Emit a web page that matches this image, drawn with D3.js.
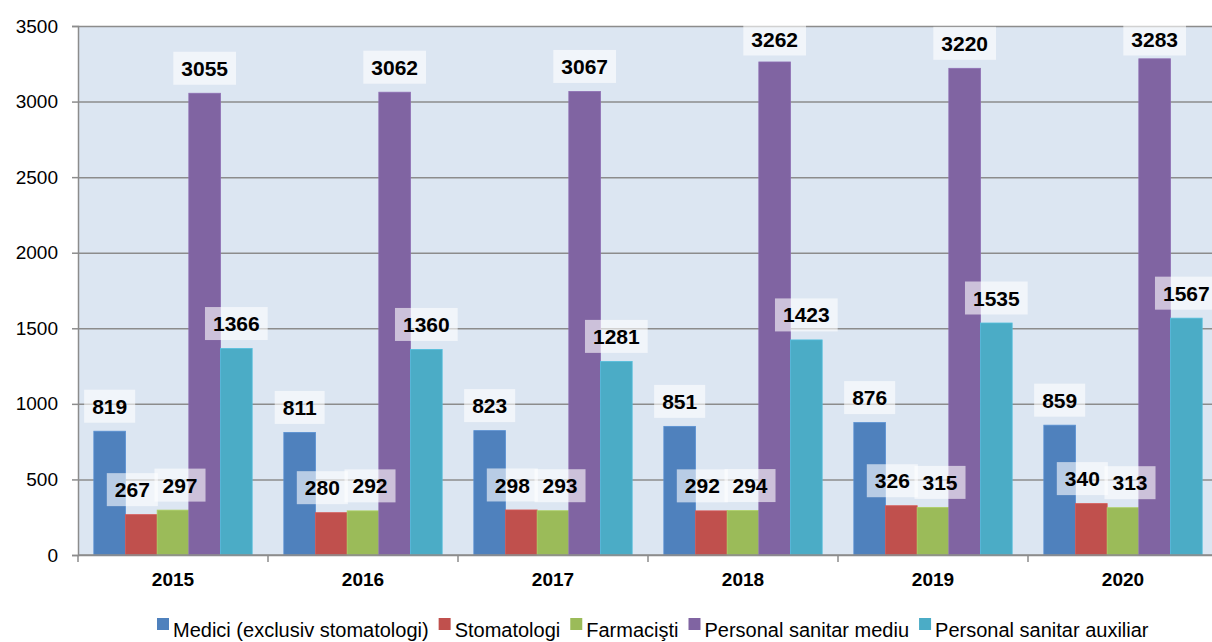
<!DOCTYPE html>
<meta charset="utf-8">
<style>
  body { margin: 0; background: #fff; }
  svg { display: block; font-family: "Liberation Sans", Arial, sans-serif; }
</style>
<body>
<div id="chart"></div>
<script src="https://d3js.org/d3.v7.min.js"></script>
<script>
// ——— data ———
const years = ["2015", "2016", "2017", "2018", "2019", "2020"];
const seriesNames = [
  "Medici (exclusiv stomatologi)",
  "Stomatologi",
  "Farmacişti",
  "Personal sanitar mediu",
  "Personal sanitar auxiliar"
];
const medici    = [819, 811, 823, 851, 876, 859];
const stomat    = [267, 280, 298, 292, 326, 340];
const farmacisti = [297, 292, 293, 294, 315, 313];
const mediu     = [3055, 3062, 3067, 3262, 3220, 3283];
const auxiliar  = [1366, 1360, 1281, 1423, 1535, 1567];
const yTicks = [0, 500, 1000, 1500, 2000, 2500, 3000, 3500];

const colors = ["#4f81bd", "#c0504d", "#9bbb59", "#8064a2", "#4bacc6"];
const values = [medici, stomat, farmacisti, mediu, auxiliar];
// small nudges so the red/green labels don't sit on each other
const labelDx = [0, -9, 7, 0, 0];

const rows = years.map((yr, i) => ({
  year: yr,
  vals: seriesNames.map((s, j) => ({ key: s, idx: j, value: values[j][i] }))
}));

// ——— layout ———
const W = 1212, H = 642;
const plotL = 78, plotR = 1218, plotT = 26, plotB = 555;

const svg = d3.select("#chart").append("svg")
  .attr("width", W)
  .attr("height", H);

const x0 = d3.scaleBand().domain(years).range([plotL, plotR]).padding(0);
const x1 = d3.scaleBand().domain(seriesNames).range([0, x0.bandwidth()])
  .paddingInner(0).paddingOuter(0.5);
const y = d3.scaleLinear().domain([0, 3500]).range([plotB, plotT]);

// plot background
svg.append("rect")
  .attr("x", plotL).attr("y", plotT)
  .attr("width", plotR - plotL).attr("height", plotB - plotT)
  .attr("fill", "#dce6f2");

// gridlines + y axis
const yAxis = svg.append("g")
  .attr("transform", `translate(${plotL},0)`)
  .call(d3.axisLeft(y).tickValues(yTicks).tickSize(6).tickPadding(14).tickFormat(d3.format("d")));
yAxis.select(".domain").attr("stroke", "#8c8c8c").attr("stroke-width", 1.5);
yAxis.selectAll(".tick line").attr("stroke", "#8c8c8c").attr("stroke-width", 1.5);
yAxis.selectAll(".tick line").clone()
  .attr("x1", 0).attr("x2", plotR - plotL);
yAxis.selectAll(".tick text")
  .attr("font-size", 19).attr("fill", "#000")
  .attr("font-family", "'Liberation Sans', Arial, sans-serif");

// x axis
const xAxis = svg.append("g")
  .attr("transform", `translate(0,${plotB})`)
  .call(d3.axisBottom(x0).tickSize(0).tickPadding(18));
xAxis.select(".domain").remove();
xAxis.selectAll(".tick text")
  .attr("font-size", 19).attr("font-weight", "bold").attr("fill", "#000")
  .attr("font-family", "'Liberation Sans', Arial, sans-serif");
svg.append("g").selectAll("line")
  .data(years.concat(["end"]))
  .join("line")
    .attr("x1", (d, i) => plotL + i * x0.step())
    .attr("x2", (d, i) => plotL + i * x0.step())
    .attr("y1", plotB).attr("y2", plotB + 7)
    .attr("stroke", "#8c8c8c").attr("stroke-width", 1.5);

// bars
const groups = svg.append("g").selectAll("g")
  .data(rows)
  .join("g")
    .attr("transform", d => `translate(${x0(d.year)},0)`);

groups.selectAll("rect")
  .data(d => d.vals)
  .join("rect")
    .attr("x", d => x1(d.key))
    .attr("width", x1.bandwidth())
    .attr("y", d => y(d.value))
    .attr("height", d => y(0) - y(d.value))
    .attr("fill", d => colors[d.idx])
    .attr("stroke", d => d3.color(colors[d.idx]).brighter(0.3))
    .attr("stroke-width", 0.8);

// redraw axis baseline over bars
svg.append("line")
  .attr("x1", plotL).attr("x2", plotR)
  .attr("y1", plotB).attr("y2", plotB)
  .attr("stroke", "#8c8c8c").attr("stroke-width", 1.5);

// data labels
const labels = svg.append("g").selectAll("g")
  .data(rows.flatMap(r => r.vals.map(v => ({ ...v, year: r.year }))))
  .join("g")
    .attr("transform", d => {
      const cx = x0(d.year) + x1(d.key) + x1.bandwidth() / 2 + labelDx[d.idx];
      const cy = Math.max(y(d.value) - 25, plotT + 13);
      return `translate(${cx},${cy})`;
    });

labels.append("text")
  .attr("text-anchor", "middle")
  .attr("dy", "0.36em")
  .attr("font-size", 21)
  .attr("font-weight", "bold")
  .attr("fill", "#000")
  .text(d => d.value);

labels.insert("rect", "text")
  .each(function () {
    const tw = this.parentNode.querySelector("text").getComputedTextLength();
    d3.select(this)
      .attr("x", -tw / 2 - 8).attr("width", tw + 16)
      .attr("y", -16.5).attr("height", 33);
  })
  .attr("fill", "#fff")
  .attr("fill-opacity", 0.6);

// legend
const legend = svg.append("g").attr("transform", `translate(0,${H - 5})`);
let lx = 157;
seriesNames.forEach((name, i) => {
  legend.append("rect")
    .attr("x", lx).attr("y", -19)
    .attr("width", 12).attr("height", 12)
    .attr("fill", colors[i]);
  const t = legend.append("text")
    .attr("x", lx + 16)
    .attr("y", 0)
    .attr("font-size", 20)
    .attr("fill", "#000")
    .text(name);
  lx += 16 + t.node().getComputedTextLength() + 10;
});
</script>
</body>
